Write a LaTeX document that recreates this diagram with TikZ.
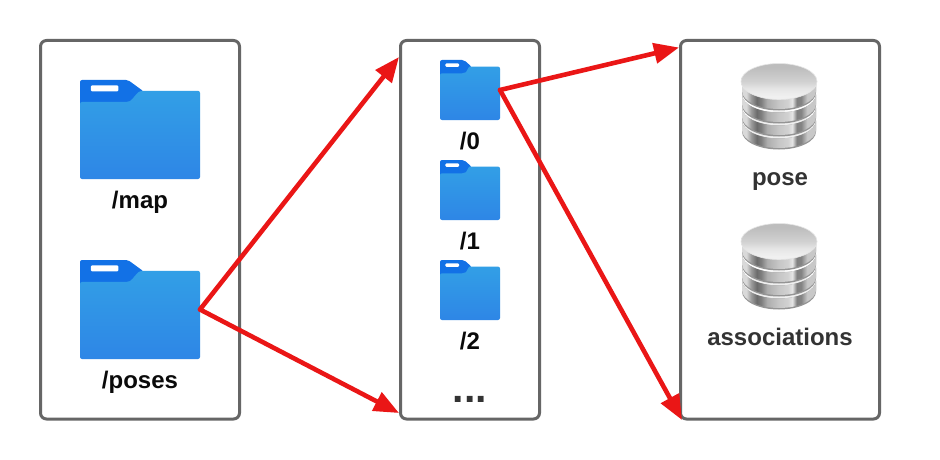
\documentclass[tikz,border=0pt]{standalone}
\usepackage{fontspec}
\setmainfont{Liberation Sans}
\usetikzlibrary{arrows.meta}
\definecolor{boxline}{HTML}{666666}
\definecolor{arrowred}{HTML}{EA1616}
\definecolor{tabblue}{HTML}{1271E6}
\definecolor{foldertop}{HTML}{329FE6}
\definecolor{folderbottom}{HTML}{2E86E6}
\definecolor{labeldark}{HTML}{0A0A0A}
\definecolor{labelgrey}{HTML}{333333}
\pgfdeclarehorizontalshading{discband}{100bp}{
 color(0bp)=(black!15);
 color(25bp)=(black!15);
 color(28bp)=(black!15);
 color(31bp)=(black!38);
 color(35bp)=(black!58);
 color(38bp)=(black!50);
 color(42bp)=(black!32);
 color(50bp)=(black!22);
 color(56bp)=(black!18);
 color(59bp)=(black!10);
 color(62bp)=(black!50);
 color(65bp)=(black!48);
 color(69bp)=(black!22);
 color(100bp)=(black!18)}
\pgfdeclareverticalshading{disctop}{100bp}{
 color(0bp)=(black!6);
 color(30bp)=(black!6);
 color(40bp)=(black!10);
 color(50bp)=(black!18);
 color(70bp)=(black!26);
 color(100bp)=(black!26)}
\tikzset{
 panel/.style={draw=boxline,line width=3pt,fill=white,rounded corners=6pt,inner sep=0pt,outer sep=0pt,minimum height=378.5pt,anchor=north west},
 flabel/.style={anchor=base,text=labeldark,font=\fontsize{24}{24}\selectfont\bfseries,inner sep=0pt},
 dblabel/.style={anchor=base,text=labelgrey,font=\fontsize{24}{24}\selectfont\bfseries,inner sep=0pt},
 link/.style={draw=arrowred,line width=4.6pt,line cap=round,-{Triangle[length=25pt,width=20pt]}}
}
% \folder{name}{left}{top}{width}{height}
\newcommand{\folder}[5]{%
 \node[inner sep=0pt,outer sep=0pt,minimum width=#4 pt,minimum height=#5 pt,anchor=north west] (#1) at (#2,#3) {};
 \begin{scope}[shift={(#2,#3)},x=#4pt,y=-#5pt]
  \fill[tabblue,rounded corners=2pt] (0,0.3) -- (0,0) -- (0.40,0) -- (0.53,0.115) -- (0.53,0.3) -- cycle;
  \fill[white,rounded corners=1.2pt] (0.09,0.055) rectangle (0.32,0.115);
  \shade[top color=foldertop,bottom color=folderbottom,rounded corners=2pt]
    (0,1) -- (0,0.222) -- (0.40,0.222) .. controls (0.44,0.20) and (0.48,0.11) .. (0.525,0.11) -- (1,0.11) -- (1,1) -- cycle;
 \end{scope}}
% \database{name}{left}{top}
\newcommand{\database}[3]{%
 \node[inner sep=0pt,outer sep=0pt,minimum width=78pt,minimum height=85pt,anchor=north west] (#1) at (#2,#3) {};
 \begin{scope}[shift={(#2,#3)}]
  \fill[black!20,opacity=.3] (39,67) ellipse (37 and 19);
  \foreach \dy in {39,26,13,0}{
   \fill[black!42] (2,18.5+\dy) arc[start angle=180,end angle=0,x radius=37,y radius=18] -- (76,29.5+\dy)
     arc[start angle=0,end angle=180,x radius=37,y radius=18] -- cycle;
   \shade[shading=discband]
    (2,18.5+\dy) -- (2,28+\dy) arc[start angle=180,end angle=0,x radius=37,y radius=18]
    -- (76,18.5+\dy) arc[start angle=0,end angle=180,x radius=37,y radius=18] -- cycle;
  }
  \shade[shading=disctop,draw=black!10,line width=.6pt] (39,18.5) ellipse (38 and 18);
 \end{scope}}
\begin{document}
\begin{tikzpicture}[x=1pt,y=-1pt]
\useasboundingbox (0,0) rectangle (940,460);
\fill[white] (0,0) rectangle (940,460);
\node[panel,minimum width=199pt] (leftpanel) at (40.5,40.5) {};
\node[panel,minimum width=139pt] (midpanel) at (400.5,40.5) {};
\node[panel,minimum width=199pt] (rightpanel) at (680.5,40.5) {};

\folder{map}{80}{80}{120}{99}
\folder{poses}{80}{260}{120}{99}
\folder{zero}{440}{60}{60}{60}
\folder{one}{440}{160}{60}{60}
\folder{two}{440}{260}{60}{60}
\database{pose}{740}{63}
\database{assoc}{740}{223}

\node[flabel] (maplabel) at (140,208) {/map};
\node[flabel] (poseslabel) at (140,388) {/poses};
\node[flabel] (zerolabel) at (470,149) {/0};
\node[flabel] (onelabel) at (470,249) {/1};
\node[flabel] (twolabel) at (470,349) {/2};
\node[anchor=base,text=labelgrey,font=\fontsize{41}{41}\selectfont\bfseries,inner sep=0pt] (dots) at (470,402) {...};
\node[dblabel] (poselabel) at (780,185) {pose};
\node[dblabel] (assoclabel) at (780,345) {associations};

\coordinate (midtop) at (399,57);
\coordinate (midbottom) at (399,413);
\coordinate (righttop) at (679,47.5);
\coordinate (rightbottom) at (682,420);
\draw[link] (poses.east) -- (midtop);
\draw[link] (poses.east) -- (midbottom);
\draw[link] (zero.east) -- (righttop);
\draw[link] (zero.east) -- (rightbottom);
\end{tikzpicture}
\end{document}
